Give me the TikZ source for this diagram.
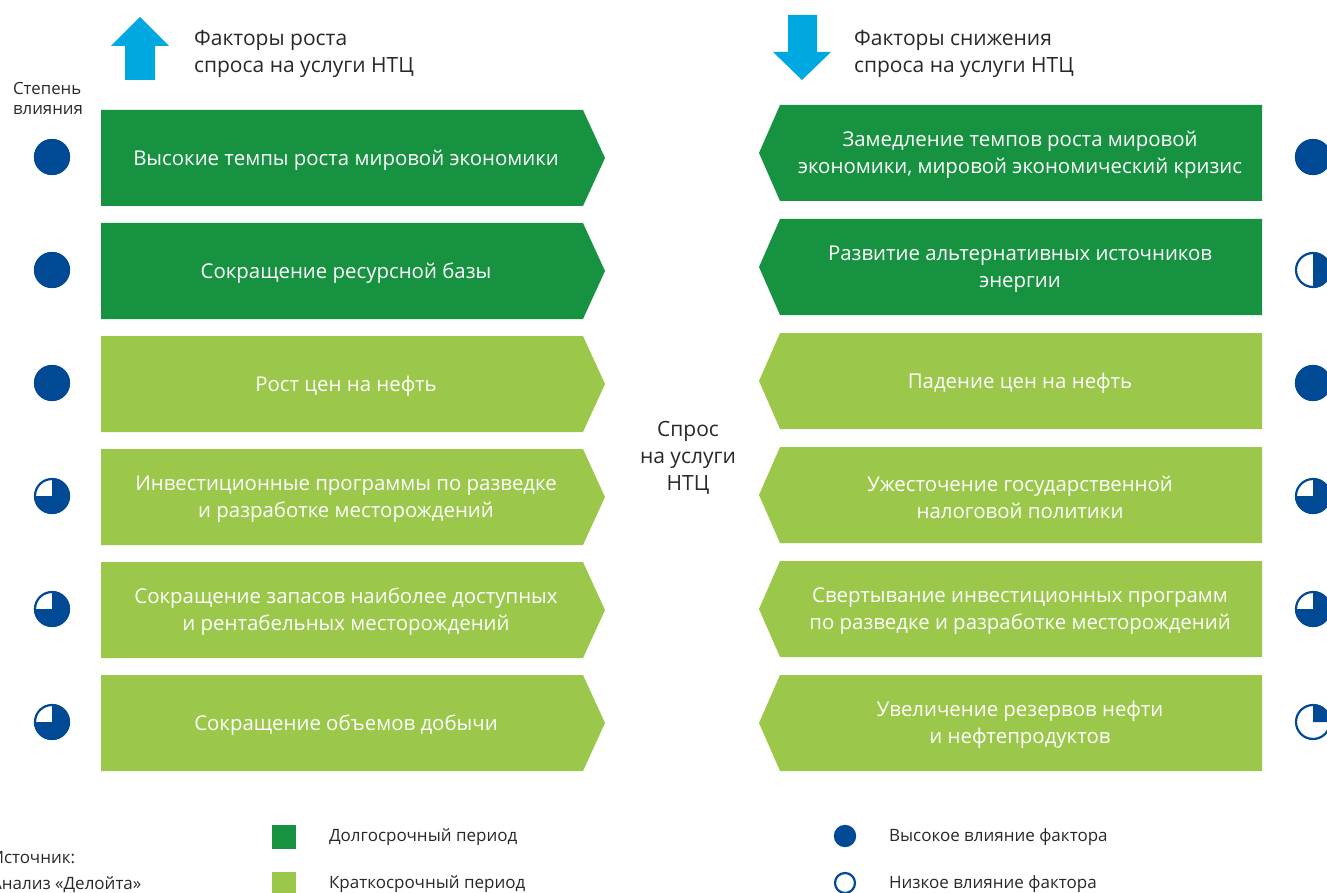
\documentclass[tikz,border=0pt]{standalone}
\usepackage{fontspec}
\setmainfont{Open Sans}
\definecolor{longterm}{RGB}{22,146,64}
\definecolor{shortterm}{RGB}{155,200,75}
\definecolor{arrowblue}{RGB}{0,168,225}
\definecolor{impact}{RGB}{0,74,149}
\definecolor{caption}{RGB}{40,40,40}

\begin{document}
\begin{tikzpicture}[x=0.5pt,y=-0.5pt]
  \tikzstyle{factor}=[text=white, align=center, font=\fontsize{10.2}{13.5}\selectfont]
  \tikzstyle{heading}=[text=caption, anchor=west, align=left, font=\fontsize{10.5}{13.5}\selectfont]
  \tikzstyle{legend}=[text=caption, anchor=west, font=\fontsize{8.5}{13}\selectfont]
  \tikzstyle{ring}=[draw=impact, line width=1.1pt]

  \useasboundingbox (0,0) rectangle (1327,893);

  % headings
  \fill[arrowblue] (140,17) -- (169,46) -- (155,46) -- (155,80) -- (125,80) -- (125,46) -- (111,46) -- cycle;
  \node[heading] (up) at (187,54) {Факторы роста\\спроса на услуги НТЦ};
  \fill[arrowblue] (802,80) -- (831,52) -- (817,52) -- (817,15) -- (788,15) -- (788,52) -- (773,52) -- cycle;
  \node[heading] (down) at (847,54) {Факторы снижения\\спроса на услуги НТЦ};
  \node[text=caption, align=left, font=\fontsize{8.4}{10}\selectfont] (degree) at (48,98) {Степень\\влияния};

  % growth factors
  \foreach \i/\c/\k/\t in {0/longterm/4/{Высокие темпы роста мировой экономики},
                           1/longterm/4/{Сокращение ресурсной базы},
                           2/shortterm/4/{Рост цен на нефть},
                           3/shortterm/3/{Инвестиционные программы по разведке\\и разработке месторождений},
                           4/shortterm/3/{Сокращение запасов наиболее доступных\\и рентабельных месторождений},
                           5/shortterm/3/{Сокращение объемов добычи}}{
    \pgfmathsetmacro{\y}{110+113*\i}
    \fill[\c] (101,\y) -- (583,\y) -- (605,\y+48) -- (583,\y+96) -- (101,\y+96) -- cycle;
    \node[factor] (L\i) at (346,\y+50) {\t};
    \coordinate (Lp\i) at (52,\y+47);
    \pgfmathsetmacro{\e}{90-90*\k}
    \fill[impact] (Lp\i) -- ++(90:9pt) arc[start angle=90, end angle=\e, radius=9pt] -- cycle;
    \draw[ring] (Lp\i) circle[radius=8.5pt];
  }

  % decline factors
  \foreach \i/\c/\k/\t in {0/longterm/4/{Замедление темпов роста мировой\\экономики, мировой экономический кризис},
                           1/longterm/2/{Развитие альтернативных источников\\энергии},
                           2/shortterm/4/{Падение цен на нефть},
                           3/shortterm/3/{Ужесточение государственной\\налоговой политики},
                           4/shortterm/3/{Свертывание инвестиционных программ\\по разведке и разработке месторождений},
                           5/shortterm/1/{Увеличение резервов нефти\\и нефтепродуктов}}{
    \pgfmathsetmacro{\y}{105+114*\i}
    \fill[\c] (780,\y) -- (1262,\y) -- (1262,\y+96) -- (780,\y+96) -- (759,\y+48) -- cycle;
    \node[factor] (R\i) at (1020,\y+50) {\t};
    \coordinate (Rp\i) at (1313,110+113*\i+47);
    \pgfmathsetmacro{\e}{90-90*\k}
    \fill[impact] (Rp\i) -- ++(90:9pt) arc[start angle=90, end angle=\e, radius=9pt] -- cycle;
    \draw[ring] (Rp\i) circle[radius=8.5pt];
  }

  \node[text=caption, align=center, font=\fontsize{10.5}{13.5}\selectfont] (demand) at (688,458) {Спрос\\на услуги\\НТЦ};

  % legend
  \fill[longterm] (272,825) rectangle (296,849);
  \node[legend] (long) at (322,837) {Долгосрочный период};
  \fill[shortterm] (272,872) rectangle (296,896);
  \node[legend] (short) at (322,884) {Краткосрочный период};
  \fill[impact] (845,836) circle[radius=5.6pt];
  \node[legend] (high) at (882,837) {Высокое влияние фактора};
  \draw[ring] (845,883) circle[radius=5pt];
  \node[legend] (low) at (882,884) {Низкое влияние фактора};
  \node[legend, align=left] (source) at (-16,872) {Источник:\\Анализ «Делойта»};
\end{tikzpicture}
\end{document}
